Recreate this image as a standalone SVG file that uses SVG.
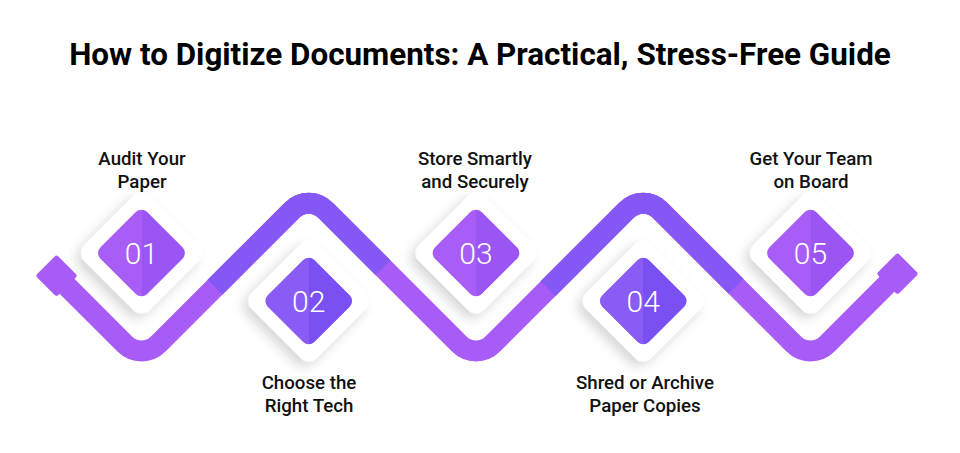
<svg xmlns="http://www.w3.org/2000/svg" width="960" height="453" viewBox="0 0 960 453">
<style>
.title{font-family:Roboto,"Liberation Sans",sans-serif;font-weight:700;font-size:31.4px;fill:#000;text-anchor:middle}
.lbl{font-family:Roboto,"Liberation Sans",sans-serif;font-weight:500;font-size:18.7px;fill:#111;text-anchor:middle}
.num{font-family:Roboto,"Liberation Sans",sans-serif;font-weight:300;font-size:30px;fill:#fff;text-anchor:middle}
.band{fill:none;stroke-width:21;stroke-linecap:butt}
.light{stroke:#A85CF7}
.dark{stroke:#8558F6}
.card{fill:#fff;filter:url(#sh)}
</style>
<defs>
<filter id="sh" x="-50%" y="-50%" width="200%" height="200%">
<feDropShadow dx="0" dy="7" stdDeviation="6" flood-color="#000" flood-opacity="0.16"/>
</filter>
<linearGradient id="gL" gradientUnits="userSpaceOnUse" x1="-30" y1="30" x2="30" y2="-30">
<stop offset="0.5" stop-color="#A75DF6"/><stop offset="0.5" stop-color="#9B55F4"/>
</linearGradient>
<linearGradient id="gD" gradientUnits="userSpaceOnUse" x1="-30" y1="30" x2="30" y2="-30">
<stop offset="0.5" stop-color="#895CF6"/><stop offset="0.5" stop-color="#7B50F2"/>
</linearGradient>
</defs>
<rect width="960" height="453" fill="#fff"/>
<text class="title" x="480" y="65">How to Digitize Documents: A Practical, Stress-Free Guide</text>

<g id="connectors">
<path class="band light" d="M56.5 275.75 L124.9 344.15 A23.5 23.5 0 0 0 158.1 344.15 L292.15 210.1 A23.5 23.5 0 0 1 325.35 210.1 L459.4 344.15 A23.5 23.5 0 0 0 492.6 344.15 L626.65 210.1 A23.5 23.5 0 0 1 659.85 210.1 L793.9 344.15 A23.5 23.5 0 0 0 827.1 344.15 L897.5 273.75"/>
<path class="band dark" d="M215 287.25 L292.15 210.1 A23.5 23.5 0 0 1 325.35 210.1 L383 267.75"/>
<path class="band dark" d="M548 288.75 L626.65 210.1 A23.5 23.5 0 0 1 659.85 210.1 L736 286.25"/>
<rect x="-15" y="-15" width="30" height="30" rx="3" fill="#A85CF7" transform="translate(56.5 275.75) rotate(45)"/>
<rect x="-15" y="-15" width="30" height="30" rx="3" fill="#A85CF7" transform="translate(897.5 273.75) rotate(45)"/>
</g>

<g id="node1">
<g transform="translate(141.5 253) rotate(45)">
<rect class="card" x="-46" y="-46" width="92" height="92" rx="12"/>
<rect x="-33" y="-33" width="66" height="66" rx="8" fill="url(#gL)"/>
</g>
<text class="num" x="141.5" y="263.5">01</text>
<text class="lbl" x="142" y="164.5">Audit Your</text>
<text class="lbl" x="142" y="187.5">Paper</text>
</g>

<g id="node2">
<g transform="translate(308.75 301) rotate(45)">
<rect class="card" x="-46" y="-46" width="92" height="92" rx="12"/>
<rect x="-33" y="-33" width="66" height="66" rx="8" fill="url(#gD)"/>
</g>
<text class="num" x="308.75" y="311.5">02</text>
<text class="lbl" x="309" y="388.5">Choose the</text>
<text class="lbl" x="309" y="411.5">Right Tech</text>
</g>

<g id="node3">
<g transform="translate(476 253) rotate(45)">
<rect class="card" x="-46" y="-46" width="92" height="92" rx="12"/>
<rect x="-33" y="-33" width="66" height="66" rx="8" fill="url(#gL)"/>
</g>
<text class="num" x="476" y="263.5">03</text>
<text class="lbl" x="475" y="165">Store Smartly</text>
<text class="lbl" x="475" y="188">and Securely</text>
</g>

<g id="node4">
<g transform="translate(643.25 301) rotate(45)">
<rect class="card" x="-46" y="-46" width="92" height="92" rx="12"/>
<rect x="-33" y="-33" width="66" height="66" rx="8" fill="url(#gD)"/>
</g>
<text class="num" x="643.25" y="311.5">04</text>
<text class="lbl" x="645" y="388.5">Shred or Archive</text>
<text class="lbl" x="645" y="411.5">Paper Copies</text>
</g>

<g id="node5">
<g transform="translate(810.5 253) rotate(45)">
<rect class="card" x="-46" y="-46" width="92" height="92" rx="12"/>
<rect x="-33" y="-33" width="66" height="66" rx="8" fill="url(#gL)"/>
</g>
<text class="num" x="810.5" y="263.5">05</text>
<text class="lbl" x="811" y="165">Get Your Team</text>
<text class="lbl" x="811" y="188">on Board</text>
</g>
</svg>
